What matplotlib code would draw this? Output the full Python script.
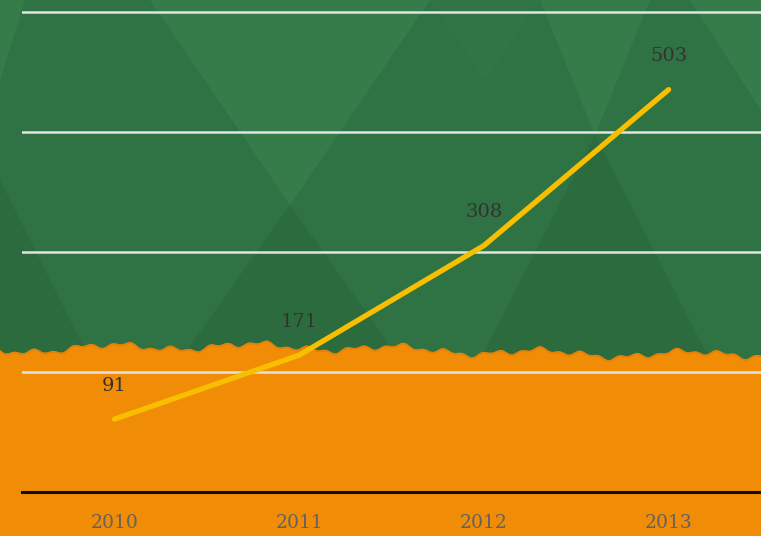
import matplotlib
matplotlib.use("Agg")
import matplotlib.pyplot as plt
import numpy as np
from matplotlib.patches import Polygon

years = ["2010", "2011", "2012", "2013"]
values = [91, 171, 308, 503]
grid_values = [150, 300, 450, 600]

W, H = 761, 536
fig = plt.figure(figsize=(W / 100, H / 100), dpi=100)

# background: green panel with soft triangles, torn orange paper below
bg = fig.add_axes([0, 0, 1, 1], zorder=0)
bg.set_xlim(0, W)
bg.set_ylim(H, 0)
bg.axis("off")
bg.add_patch(Polygon([(0, 0), (W, 0), (W, H), (0, H)], color="#2f7244"))

light = "#3e8753"
dark = "#28653a"
for pts, col in [
    ([(150, 0), (430, 0), (290, 205)], light),
    ([(540, 0), (650, 0), (595, 135)], light),
    ([(690, 0), (761, 0), (761, 110)], light),
    ([(0, 0), (25, 0), (0, 80)], light),
    ([(290, 205), (180, 360), (400, 360)], dark),
    ([(595, 135), (480, 360), (710, 360)], dark),
    ([(0, 180), (90, 360), (0, 360)], dark),
    ([(430, 0), (540, 0), (485, 80)], "#34784a"),
]:
    bg.add_patch(Polygon(pts, color=col, alpha=0.5, lw=0))

xs = np.linspace(0, W, 400)
edge = 350 + 3 * np.sin(xs / 23) + 2 * np.sin(xs / 7.3) + 1.5 * np.sin(xs / 3.1) - 4 * np.sin(xs / 140)
bg.fill_between(xs, edge, H, color="#f08c06", lw=0)
bg.plot(xs, edge + 1, color="#e07d08", lw=1.2, alpha=0.8)

# main chart
ax = fig.add_axes([22 / W, 44 / H, 1 - 22 / W, 492 / H], zorder=1)
ax.patch.set_alpha(0)
x = np.arange(len(years))
ax.set_xlim(-0.5, len(years) - 0.5)
ax.set_ylim(0, 615)

for g in grid_values:
    ax.axhline(g, color="#e2e2e2", lw=1.8, zorder=1)
ax.axhline(0, color="#111111", lw=2.2, zorder=2, clip_on=False)

ax.plot(x, values, color="#f7bf00", lw=3.8, solid_capstyle="round",
        solid_joinstyle="round", zorder=3)

for xi, v in zip(x, values):
    ax.annotate(str(v), (xi, v), xytext=(0, 24), textcoords="offset points",
                ha="center", va="center", fontsize=14, color="#333333",
                family="DejaVu Serif", zorder=4)

ax.set_xticks(x)
ax.set_xticklabels(years, family="DejaVu Serif", fontsize=13.5, color="#626262")
ax.tick_params(axis="x", length=0, pad=16)
ax.set_yticks([])
for s in ax.spines.values():
    s.set_visible(False)

fig.savefig("out.png", dpi=100)
